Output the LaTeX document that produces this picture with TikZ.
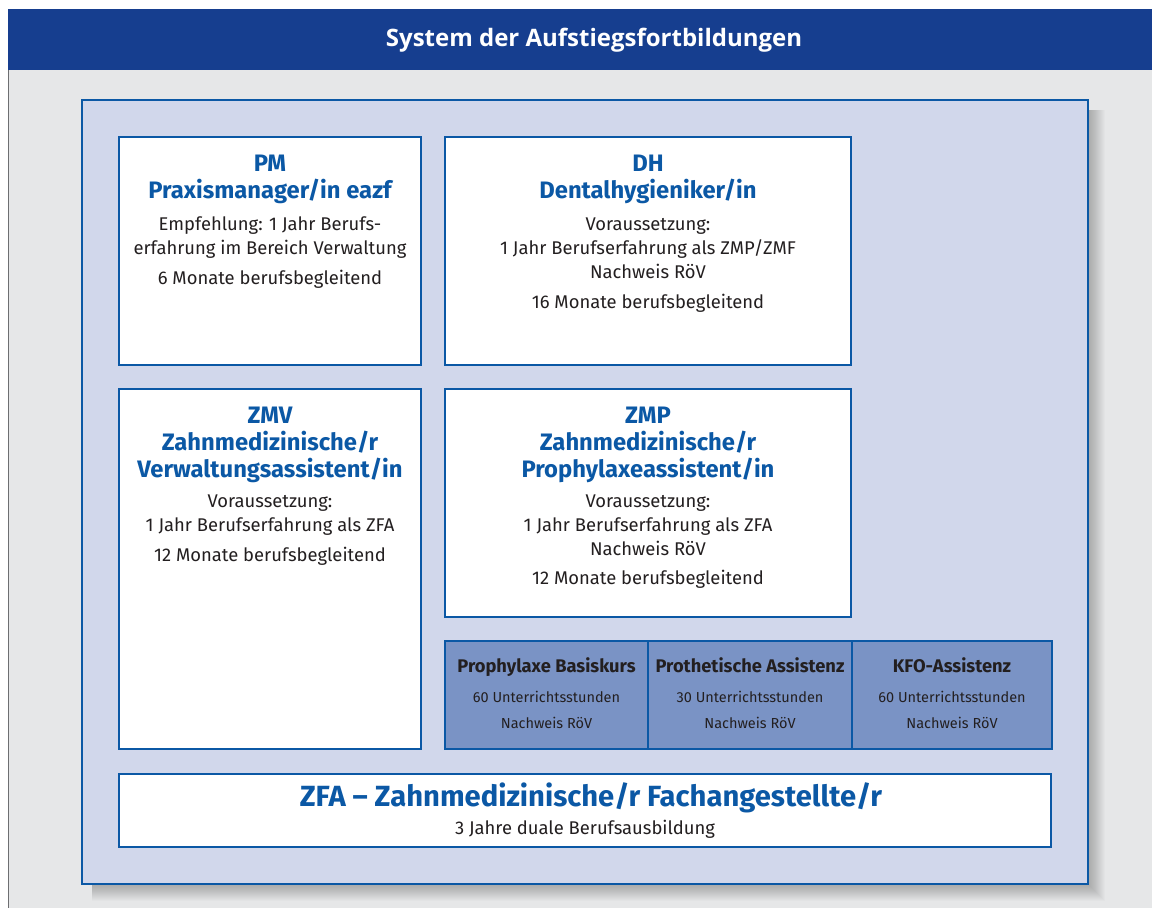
\documentclass[tikz,border=0pt]{standalone}
\usepackage{fontspec}
\setmainfont{Fira Sans}
\newfontfamily\headfont{Open Sans}
\definecolor{barblue}{HTML}{163E8F}
\definecolor{lineblue}{HTML}{0B58A5}
\definecolor{panelfill}{HTML}{D1D7EB}
\definecolor{smallfill}{HTML}{7A93C5}
\definecolor{bggray}{HTML}{E6E7E8}
\definecolor{edgegray}{HTML}{6D6E71}
\definecolor{textdark}{HTML}{231F20}
\begin{document}
\begin{tikzpicture}[x=1pt,y=-1pt,
  box/.style={draw=lineblue, line width=2.5pt, fill=white, anchor=north west, inner sep=0pt, outer sep=0pt},
  smallbox/.style={box, fill=smallfill},
  ttl/.style={font=\fontsize{23.8}{27}\selectfont\bfseries, text=lineblue, inner sep=0pt, anchor=base},
  bdy/.style={font=\fontsize{18.4}{22}\selectfont, text=textdark, inner sep=0pt, anchor=base},
  sttl/.style={font=\fontsize{18.3}{21}\selectfont\bfseries, text=textdark, inner sep=0pt, anchor=base},
  sbdy/.style={font=\fontsize{14.5}{17}\selectfont, text=textdark, inner sep=0pt, anchor=base},
  head/.style={font=\headfont\fontsize{24}{28}\selectfont\bfseries, text=white, inner sep=0pt, anchor=base},
  big/.style={font=\fontsize{29.2}{34}\selectfont\bfseries, text=lineblue, inner sep=0pt, anchor=base}
]
\useasboundingbox (0,0) rectangle (1152,908);
\fill[white] (0,0) rectangle (1152,908);
% background and title bar
\fill[bggray] (8,70) rectangle (1152,908);
\draw[edgegray, line width=1.5pt] (8.5,70) -- (8.5,908);
\fill[barblue] (8,9) rectangle (1152,70);
\node[head] (title) at (594,46) {System der Aufstiegsfortbildungen};
% shadow of the panel
\foreach \i in {1,...,16} {
  \fill[black, opacity=0.015] (92,110) rectangle (1089+\i,885+\i);
}
% outer panel
\path node[box, fill=panelfill, minimum width=1006pt, minimum height=784pt] (panel) at (82,100) {};
% boxes
\path node[box, minimum width=302pt, minimum height=228pt] (pm) at (119,137) {};
\path node[box, minimum width=406pt, minimum height=228pt] (dh) at (445,137) {};
\path node[box, minimum width=302pt, minimum height=360pt] (zmv) at (119,389) {};
\path node[box, minimum width=406pt, minimum height=228pt] (zmp) at (445,389) {};
\path node[smallbox, minimum width=203pt, minimum height=108pt] (pb) at (445,641) {};
\path node[smallbox, minimum width=204pt, minimum height=108pt] (pa) at (648,641) {};
\path node[smallbox, minimum width=200pt, minimum height=108pt] (kfo) at (852,641) {};
\path node[box, minimum width=932pt, minimum height=73pt] (zfa) at (119,774) {};
% PM
\node[ttl] (pm1) at (270,171) {PM};
\node[ttl] (pm2) at (270,198) {Praxismanager/in eazf};
\node[bdy] (pm3) at (270,230) {Empfehlung: 1 Jahr Berufs-};
\node[bdy] (pm4) at (270,254) {erfahrung im Bereich Verwaltung};
\node[bdy] (pm5) at (270,284) {6 Monate berufsbegleitend};
% DH
\node[ttl] (dh1) at (648,171) {DH};
\node[ttl] (dh2) at (648,198) {Dentalhygieniker/in};
\node[bdy] (dh3) at (648,230) {Voraussetzung:};
\node[bdy] (dh4) at (648,254) {1 Jahr Berufserfahrung als ZMP/ZMF};
\node[bdy] (dh5) at (648,278) {Nachweis RöV};
\node[bdy] (dh6) at (648,308) {16 Monate berufsbegleitend};
% ZMV
\node[ttl] (zmv1) at (270,423) {ZMV};
\node[ttl] (zmv2) at (270,450) {Zahnmedizinische/r};
\node[ttl] (zmv3) at (270,477) {Verwaltungsassistent/in};
\node[bdy] (zmv4) at (270,507) {Voraussetzung:};
\node[bdy] (zmv5) at (270,531) {1 Jahr Berufserfahrung als ZFA};
\node[bdy] (zmv6) at (270,561) {12 Monate berufsbegleitend};
% ZMP
\node[ttl] (zmp1) at (648,423) {ZMP};
\node[ttl] (zmp2) at (648,450) {Zahnmedizinische/r};
\node[ttl] (zmp3) at (648,477) {Prophylaxeassistent/in};
\node[bdy] (zmp4) at (648,507) {Voraussetzung:};
\node[bdy] (zmp5) at (648,531) {1 Jahr Berufserfahrung als ZFA};
\node[bdy] (zmp6) at (648,555) {Nachweis RöV};
\node[bdy] (zmp7) at (648,584) {12 Monate berufsbegleitend};
% small boxes
\node[sttl] (pb1) at (546.5,672) {Prophylaxe Basiskurs};
\node[sbdy] (pb2) at (546.5,702) {60 Unterrichtsstunden};
\node[sbdy] (pb3) at (546.5,728) {Nachweis RöV};
\node[sttl] (pa1) at (750,672) {Prothetische Assistenz};
\node[sbdy] (pa2) at (750,702) {30 Unterrichtsstunden};
\node[sbdy] (pa3) at (750,728) {Nachweis RöV};
\node[sttl] (kfo1) at (952,672) {KFO-Assistenz};
\node[sbdy] (kfo2) at (952,702) {60 Unterrichtsstunden};
\node[sbdy] (kfo3) at (952,728) {Nachweis RöV};
% ZFA
\node[big] (zfa1) at (591,806) {ZFA – Zahnmedizinische/r Fachangestellte/r};
\node[bdy] (zfa2) at (585,834) {3 Jahre duale Berufsausbildung};
\end{tikzpicture}
\end{document}
